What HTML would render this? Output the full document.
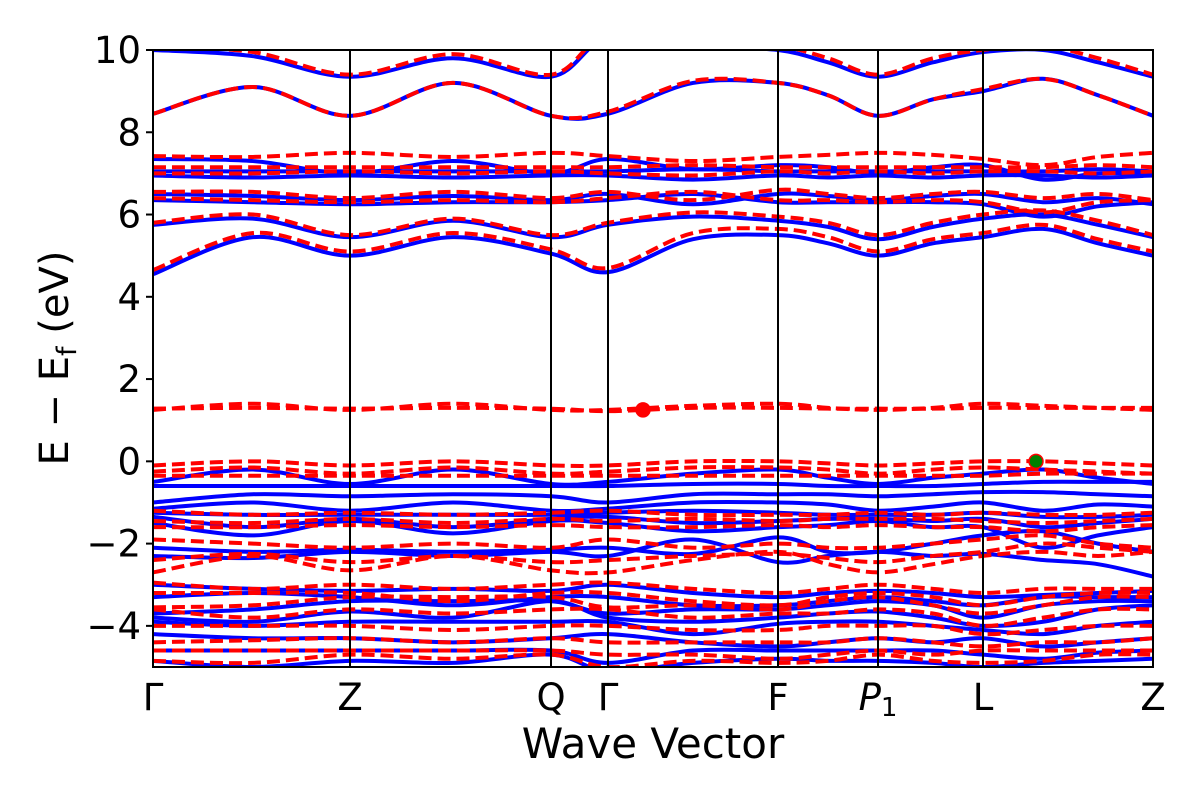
<!DOCTYPE html>
<html><head><meta charset="utf-8"><style>
body{margin:0;background:#fff;}
svg text{font-family:"DejaVu Sans","Liberation Sans",sans-serif;fill:#000;}
</style></head><body>
<svg id="chart" width="1200" height="800" xmlns="http://www.w3.org/2000/svg">
<defs><clipPath id="clip"><rect x="153" y="50" width="1000" height="617"/></clipPath></defs>
<g id="bands" clip-path="url(#clip)"></g>
<g id="axes"></g>
</svg>
<script>
const kPos=[0,100,197,300,398,455,540,625,675,725,780,830,890,945,1000];
const symLabels=["Γ","Z","Q","Γ","F","P1","L","Z"];
const symPos=[0,197,398,455,625,725,830,1000];
const yTicks=[10,8,6,4,2,0,-2,-4];
const blueBands=[
[4.55,5.45,5.0,5.45,5.05,4.6,5.4,5.5,5.3,5.0,5.3,5.45,5.65,5.3,5.0],
[5.75,5.9,5.45,5.85,5.45,5.75,5.95,5.85,5.7,5.4,5.7,5.9,6.0,5.75,5.45],
[6.35,6.3,6.25,6.3,6.3,6.35,6.5,6.3,6.3,6.3,6.3,6.25,5.95,6.2,6.3],
[6.5,6.45,6.35,6.45,6.35,6.5,6.25,6.5,6.45,6.35,6.45,6.5,6.3,6.4,6.25],
[6.95,6.9,6.95,6.9,6.95,6.95,6.85,6.95,6.9,6.95,6.9,6.95,6.95,6.9,6.95],
[7.05,7.05,7.05,7.05,7.05,7.05,7.1,7.05,7.05,7.05,7.05,7.05,7.05,7.1,7.05],
[7.35,7.3,7.0,7.3,7.0,7.35,7.1,7.2,7.15,7.0,7.15,7.2,6.85,7.0,7.0],
[8.45,9.1,8.4,9.2,8.4,8.45,9.2,9.2,8.9,8.4,8.8,9.0,9.3,8.9,8.4],
[10.0,9.85,9.35,9.8,9.35,10.3,10.1,10.0,9.7,9.35,9.7,9.95,10.0,9.7,9.35],
[-0.5,-0.2,-0.55,-0.2,-0.55,-0.5,-0.3,-0.2,-0.4,-0.55,-0.4,-0.3,-0.2,-0.4,-0.55],
[-0.6,-0.6,-0.6,-0.6,-0.6,-0.6,-0.55,-0.55,-0.6,-0.6,-0.6,-0.55,-0.5,-0.5,-0.5],
[-1.0,-0.8,-0.85,-0.8,-0.85,-1.0,-0.8,-0.8,-0.8,-0.85,-0.8,-0.75,-0.75,-0.8,-0.85],
[-1.15,-1.0,-1.2,-1.0,-1.2,-1.15,-1.0,-1.0,-1.05,-1.2,-1.1,-1.0,-1.2,-1.05,-1.1],
[-1.25,-1.3,-1.3,-1.3,-1.3,-1.25,-1.2,-1.25,-1.3,-1.3,-1.3,-1.25,-1.35,-1.35,-1.3],
[-1.35,-1.6,-1.4,-1.6,-1.4,-1.35,-1.5,-1.45,-1.4,-1.4,-1.45,-1.4,-1.6,-1.5,-1.4],
[-1.5,-1.8,-1.45,-1.75,-1.45,-1.5,-1.7,-1.6,-1.55,-1.45,-1.6,-1.6,-2.1,-1.8,-1.6],
[-2.1,-2.2,-2.15,-2.2,-2.15,-2.1,-2.25,-1.85,-2.2,-2.2,-2.0,-1.8,-1.7,-2.0,-2.2],
[-2.3,-2.35,-2.2,-2.3,-2.2,-2.3,-1.9,-2.45,-2.3,-2.2,-2.3,-2.25,-2.4,-2.5,-2.8],
[-3.0,-3.1,-3.15,-3.1,-3.15,-3.0,-3.2,-3.3,-3.2,-3.15,-3.2,-3.3,-3.25,-3.2,-3.15],
[-3.3,-3.2,-3.3,-3.5,-3.3,-3.3,-3.5,-3.5,-3.4,-3.3,-3.4,-3.5,-3.3,-3.3,-3.3],
[-3.7,-3.6,-3.4,-3.4,-3.4,-3.7,-3.6,-3.6,-3.5,-3.4,-3.5,-3.8,-3.5,-3.4,-3.4],
[-3.8,-3.9,-3.65,-3.8,-3.4,-3.8,-3.9,-3.8,-3.7,-3.65,-3.8,-4.0,-3.9,-3.6,-3.5],
[-3.9,-4.0,-3.9,-3.9,-3.9,-3.9,-4.2,-3.95,-3.9,-3.9,-4.0,-4.1,-4.2,-4.0,-3.9],
[-4.2,-4.3,-4.3,-4.4,-4.3,-4.2,-4.4,-4.5,-4.4,-4.3,-4.4,-4.3,-4.5,-4.4,-4.3],
[-4.6,-4.6,-4.6,-4.6,-4.6,-4.9,-4.6,-4.6,-4.6,-4.6,-4.6,-4.7,-4.8,-4.65,-4.6],
[-4.85,-5.0,-4.85,-4.9,-4.7,-5.1,-4.9,-4.8,-4.85,-4.85,-4.9,-5.0,-4.9,-4.85,-4.8]
];
const redBands=[
[4.65,5.55,5.1,5.55,5.15,4.7,5.55,5.65,5.45,5.1,5.4,5.55,5.75,5.4,5.1],
[5.8,6.0,5.5,5.9,5.5,5.8,6.05,5.95,5.8,5.5,5.8,6.0,6.1,5.85,5.5],
[6.4,6.35,6.3,6.35,6.3,6.4,6.55,6.35,6.35,6.3,6.35,6.3,6.05,6.3,6.35],
[6.55,6.55,6.4,6.55,6.4,6.55,6.35,6.6,6.5,6.4,6.5,6.55,6.4,6.5,6.35],
[7.0,7.0,7.05,7.0,7.05,7.0,6.95,7.05,7.0,7.05,7.0,7.05,7.05,7.0,7.05],
[7.15,7.15,7.15,7.15,7.15,7.15,7.2,7.15,7.15,7.15,7.15,7.15,7.15,7.2,7.15],
[7.42,7.4,7.5,7.4,7.5,7.42,7.3,7.4,7.45,7.5,7.45,7.35,7.2,7.4,7.5],
[8.45,9.1,8.4,9.2,8.4,8.5,9.25,9.2,8.9,8.4,8.8,9.05,9.3,8.9,8.4],
[10.1,9.95,9.4,9.9,9.4,10.4,10.2,10.1,9.8,9.4,9.8,10.0,10.1,9.8,9.4],
[1.25,1.4,1.25,1.4,1.25,1.25,1.35,1.4,1.3,1.25,1.3,1.4,1.35,1.3,1.25],
[1.28,1.3,1.28,1.3,1.28,1.22,1.3,1.3,1.28,1.28,1.28,1.3,1.3,1.3,1.3],
[-0.1,0.0,-0.1,0.0,-0.1,-0.1,0.0,0.0,-0.05,-0.1,-0.05,0.0,0.0,-0.05,-0.1],
[-0.25,-0.15,-0.3,-0.15,-0.3,-0.25,-0.15,-0.15,-0.2,-0.3,-0.2,-0.15,-0.2,-0.25,-0.3],
[-0.35,-0.35,-0.35,-0.35,-0.35,-0.35,-0.35,-0.35,-0.35,-0.35,-0.35,-0.35,-0.3,-0.3,-0.3],
[-1.2,-1.3,-1.25,-1.3,-1.25,-1.2,-1.3,-1.3,-1.3,-1.25,-1.3,-1.25,-1.3,-1.3,-1.25],
[-1.45,-1.5,-1.4,-1.5,-1.4,-1.45,-1.4,-1.45,-1.4,-1.4,-1.4,-1.45,-1.5,-1.45,-1.4],
[-1.6,-1.6,-1.55,-1.6,-1.55,-1.6,-1.6,-1.55,-1.6,-1.55,-1.6,-1.6,-1.7,-1.6,-1.55],
[-1.9,-2.0,-2.1,-2.0,-2.1,-1.9,-2.1,-2.0,-2.1,-2.1,-2.0,-1.9,-1.8,-2.0,-2.1],
[-2.4,-2.25,-2.45,-2.3,-2.45,-2.4,-2.3,-2.25,-2.35,-2.45,-2.3,-2.2,-2.0,-2.1,-2.2],
[-2.7,-2.3,-2.65,-2.3,-2.65,-2.7,-2.4,-2.2,-2.5,-2.7,-2.5,-2.3,-2.2,-2.3,-2.2],
[-2.95,-3.1,-3.0,-3.1,-3.0,-2.95,-3.1,-3.2,-3.1,-3.0,-3.1,-3.2,-3.1,-3.1,-3.1],
[-3.2,-3.2,-3.2,-3.4,-3.2,-3.2,-3.4,-3.5,-3.3,-3.2,-3.3,-3.5,-3.3,-3.2,-3.2],
[-3.55,-3.5,-3.3,-3.3,-3.3,-3.55,-3.5,-3.6,-3.4,-3.3,-3.5,-3.7,-3.5,-3.3,-3.3],
[-3.6,-3.8,-3.6,-3.7,-3.6,-3.6,-3.8,-3.7,-3.7,-3.6,-3.7,-4.0,-3.8,-3.6,-3.6],
[-4.0,-4.0,-4.0,-4.1,-4.0,-4.0,-4.1,-4.1,-4.0,-4.0,-4.0,-4.2,-4.1,-4.0,-4.0],
[-4.4,-4.35,-4.3,-4.4,-4.3,-4.4,-4.4,-4.4,-4.4,-4.3,-4.4,-4.5,-4.4,-4.4,-4.3],
[-4.6,-4.6,-4.6,-4.6,-4.6,-4.7,-4.7,-4.8,-4.7,-4.6,-4.7,-4.6,-4.6,-4.6,-4.6],
[-4.85,-4.9,-4.7,-4.8,-4.7,-5.0,-4.85,-4.9,-4.85,-4.7,-4.85,-4.9,-4.85,-4.7,-4.7]
];
const markerK=[490,883];
const markerE=[1.25,0.0];
const markerColors=["#ff0000","#008000"];

const X0=153,X1=1153,Y0=50,Y1=667,EMAX=10,EMIN=-5;
function xs(k){return X0+(k/1000)*(X1-X0);}
function ys(e){return Y0+(EMAX-e)/(EMAX-EMIN)*(Y1-Y0);}
const NS="http://www.w3.org/2000/svg";
function mk(tag,attrs,parent){const el=document.createElementNS(NS,tag);for(const a in attrs)el.setAttribute(a,attrs[a]);parent.appendChild(el);return el;}
function pathFor(vals){
  const p=kPos.map((k,i)=>[xs(k),ys(vals[i])]);
  let d="M"+p[0][0]+","+p[0][1];
  for(let i=0;i<p.length-1;i++){
    const p0=p[Math.max(0,i-1)],p1=p[i],p2=p[i+1],p3=p[Math.min(p.length-1,i+2)];
    const c1x=p1[0]+(p2[0]-p0[0])/6,c1y=p1[1]+(p2[1]-p0[1])/6;
    const c2x=p2[0]-(p3[0]-p1[0])/6,c2y=p2[1]-(p3[1]-p1[1])/6;
    d+=" C"+c1x+","+c1y+" "+c2x+","+c2y+" "+p2[0]+","+p2[1];
  }
  return d;
}
const bands=document.getElementById('bands');
blueBands.forEach(b=>{
  const el=mk('path',{d:pathFor(b),fill:'none',stroke:'#0000ff','stroke-width':4},bands);
  
  
});
redBands.forEach(b=>{
  const el=mk('path',{d:pathFor(b),fill:'none',stroke:'#ff0000','stroke-width':4,'stroke-dasharray':'13,6'},bands);
  
  
});
const axes=document.getElementById('axes');
symPos.forEach((k,i)=>{
  const l=mk('line',{x1:xs(k),x2:xs(k),y1:Y0,y2:Y1,stroke:'#000','stroke-width':2},axes);
  
  
  const t=mk('text',{x:xs(k),y:710,'font-size':37,'text-anchor':'middle'},axes);
  
  
  if(symLabels[i]==="P1"){t.innerHTML='<tspan font-style="italic">P</tspan><tspan font-size="26" dy="6">1</tspan>';}
  else t.textContent=symLabels[i];
});
markerK.forEach((k,i)=>{
  const c=mk('circle',{cx:xs(k),cy:ys(markerE[i]),r:7,fill:markerColors[i],stroke:'#ff0000','stroke-width':1.5},axes);
  
  
});
const fr=mk('rect',{x:X0,y:Y0,width:X1-X0,height:Y1-Y0,fill:'none',stroke:'#000','stroke-width':2},axes);


yTicks.forEach(v=>{
  const tk=mk('line',{x1:X0-7,x2:X0,y1:ys(v),y2:ys(v),stroke:'#000','stroke-width':2},axes);
  
  
  const t=mk('text',{x:X0-12,y:ys(v)+13,'font-size':37,'text-anchor':'end'},axes);
  
  
  t.textContent=v<0?"\u2212"+Math.abs(v):String(v);
});
const xt=mk('text',{x:653,y:758,'font-size':42,'text-anchor':'middle'},axes);


xt.textContent="Wave Vector";
const yt=mk('text',{x:0,y:0,'font-size':40,'text-anchor':'middle',transform:'translate(68,358) rotate(-90)'},axes);


yt.innerHTML='E \u2212 E<tspan font-size="27" dy="8">f</tspan><tspan dy="-8"> (eV)</tspan>';
</script>
</body></html>
